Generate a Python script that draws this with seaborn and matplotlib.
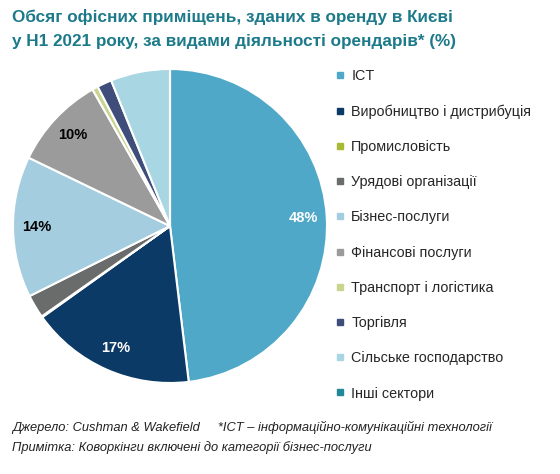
import matplotlib
matplotlib.use("Agg")
import matplotlib.pyplot as plt
from matplotlib.lines import Line2D
import numpy as np
import seaborn as sns

# Частки секторів (%), за годинниковою стрілкою від верху
sectors = ["ICT", "Виробництво і дистрибуція", "Промисловість", "Урядові організації",
           "Бізнес-послуги", "Фінансові послуги", "Транспорт і логістика", "Торгівля",
           "Сільське господарство", "Інші сектори"]
shares = [48, 17, 0.1, 2.4, 14.5, 9.6, 0.6, 1.5, 6.1, 0.0]
colors = ["#4fa8c7", "#0c3a66", "#a9b934", "#6a6b6b", "#a4cde0", "#9b9b9b",
          "#c9d48e", "#3e4d7a", "#a9d6e3", "#23879a"]
pct_labels = ["48%", "17%", "", "", "14%", "10%", "", "", "", ""]
label_colors = ["white", "white", "black", "black", "black", "black",
                "black", "black", "black", "black"]

title = "Обсяг офісних приміщень, зданих в оренду в Києві\nу H1 2021 року, за видами діяльності орендарів* (%)"
note1 = "Джерело: Cushman & Wakefield     *ICT – інформаційно-комунікаційні технології"
note2 = "Примітка: Коворкінги включені до категорії бізнес-послуги"

sns.set_theme(style="white")
plt.rcParams["font.family"] = ["Liberation Sans", "DejaVu Sans"]

fig = plt.figure(figsize=(5.6, 4.74), dpi=100)
W, H = 560, 474
ax = fig.add_axes([(170 - 157) / W, (H - 383) / H, 314 / W, 314 / H])

palette = sns.color_palette(colors)
wedges, _ = ax.pie(shares, colors=palette, startangle=90, counterclock=False,
                   wedgeprops=dict(edgecolor="white", linewidth=1.5))

# підписи відсотків
total = sum(shares)
cum = 0
for val, lab, lc in zip(shares, pct_labels, label_colors):
    mid = 90 - (cum + val / 2) / total * 360
    cum += val
    if lab:
        r = 0.85
        ax.text(r * np.cos(np.radians(mid)), r * np.sin(np.radians(mid)), lab,
                ha="center", va="center", fontsize=10.5, fontweight="bold", color=lc)
ax.set_xlim(-1, 1)
ax.set_ylim(-1, 1)
ax.set_aspect("equal")
ax.axis("off")

handles = [Line2D([], [], marker="s", linestyle="", markersize=4.5,
                  markerfacecolor=c, markeredgecolor=c) for c in colors]
fig.legend(handles, sectors, loc="upper left", bbox_to_anchor=(336 / W, 1 - 69 / H),
           frameon=False, fontsize=10.4, handlelength=0.6, handletextpad=0.45,
           labelspacing=1.47, borderaxespad=0, borderpad=0)

fig.text(12 / W, 1 - 9 / H, title, ha="left", va="top", fontsize=12.3,
         fontweight="bold", color="#1c7a8a", linespacing=1.75)
fig.text(12 / W, 1 - 427 / H, note1, ha="left", va="center", fontsize=9.3,
         style="italic", color="#222222")
fig.text(12 / W, 1 - 448 / H, note2, ha="left", va="center", fontsize=9.3,
         style="italic", color="#222222")

fig.savefig("out.png", dpi=100, facecolor="white")
